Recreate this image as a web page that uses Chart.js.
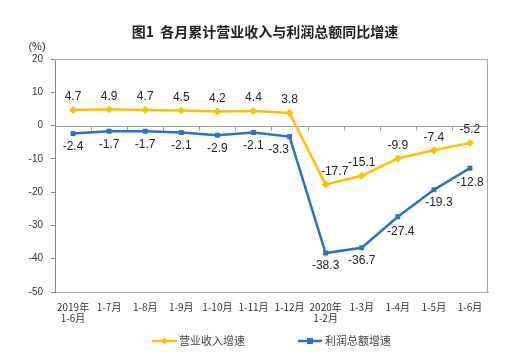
<!DOCTYPE html>
<html>
<head>
<meta charset="utf-8">
<script src="https://cdn.jsdelivr.net/npm/chart.js@4.4.1/dist/chart.umd.min.js"></script>
<style>
html,body{margin:0;padding:0;background:#fff;}
#wrap{width:516px;height:355px;position:relative;}
</style>
</head>
<body>
<div id="wrap"><canvas id="c" width="516" height="355"></canvas></div>
<script>
const categories = [['2019年','1-6月'],'1-7月','1-8月','1-9月','1-10月','1-11月','1-12月',['2020年','1-2月'],'1-3月','1-4月','1-5月','1-6月'];
const revenueGrowth = [4.7,4.9,4.7,4.5,4.2,4.4,3.8,-17.7,-15.1,-9.9,-7.4,-5.2];
const profitGrowth = [-2.4,-1.7,-1.7,-2.1,-2.9,-2.1,-3.3,-38.3,-36.7,-27.4,-19.3,-12.8];
const seriesNames = ['营业收入增速','利润总额增速'];
const yTicks = [20,10,0,-10,-20,-30,-40,-50];
const titleText = '图1  各月累计营业收入与利润总额同比增速';
const unitText = '(%)';

const ORANGE = '#FFC000';
const BLUE = '#2B72C4';
const CJK = '"Noto Sans CJK SC", sans-serif';
const LAT = '"Liberation Sans", Arial, sans-serif';

// label placement style (offsets in px)
const labelStyle = {
  0: {dy: -13, dx: {7: 9}},
  1: {dy: 13, dx: {6: -11, 9: 3, 10: 5}, dyx: {9: 15, 11: 15}}
};

const decor = {
  id: 'decor',
  beforeDatasetsDraw(chart) {
    const {ctx, chartArea: a, scales} = chart;
    ctx.save();
    ctx.strokeStyle = '#a6a6a6';
    ctx.lineWidth = 1;
    ctx.beginPath();
    ctx.moveTo(a.left, a.top + 0.5);
    ctx.lineTo(a.right - 0.5, a.top + 0.5);
    ctx.lineTo(a.right - 0.5, a.bottom);
    ctx.stroke();
    const y0 = Math.round(scales.y.getPixelForValue(0)) + 0.5;
    ctx.strokeStyle = '#999';
    ctx.beginPath();
    ctx.moveTo(a.left, y0);
    ctx.lineTo(a.right, y0);
    const xs = scales.x;
    const n = categories.length;
    const half = (xs.getPixelForValue(1) - xs.getPixelForValue(0)) / 2;
    for (let i = 1; i < n; i++) {
      const x = Math.round(xs.getPixelForValue(i) - half) + 0.5;
      ctx.moveTo(x, y0);
      ctx.lineTo(x, y0 + 4);
    }
    ctx.stroke();
    ctx.restore();
  },
  afterDatasetsDraw(chart) {
    const {ctx} = chart;
    ctx.save();
    ctx.font = '12px ' + LAT;
    ctx.fillStyle = '#222';
    ctx.textAlign = 'center';
    ctx.textBaseline = 'middle';
    chart.data.datasets.forEach((ds, di) => {
      const meta = chart.getDatasetMeta(di);
      const st = labelStyle[di];
      meta.data.forEach((pt, i) => {
        const dx = (st.dx && st.dx[i]) || 0;
        const dy = (st.dyx && st.dyx[i]) || st.dy;
        ctx.fillText(String(ds.data[i]), pt.x + dx, pt.y + dy);
      });
    });
    ctx.restore();
  },
  afterDraw(chart) {
    const {ctx} = chart;
    ctx.save();
    ctx.font = 'bold 14px ' + CJK;
    ctx.fillStyle = '#222';
    ctx.textAlign = 'center';
    ctx.textBaseline = 'middle';
    ctx.fillText(titleText, 265, 32);
    ctx.font = '11px ' + LAT;
    ctx.fillStyle = '#333';
    ctx.fillText(unitText, 37, 47);
    const items = [
      {x0: 152, x1: 177, tx: 179, color: ORANGE, style: 'rectRot'},
      {x0: 298, x1: 322, tx: 325, color: BLUE, style: 'rect'}
    ];
    const ly = 341;
    items.forEach((it, k) => {
      ctx.strokeStyle = it.color;
      ctx.lineWidth = 2.5;
      ctx.beginPath();
      ctx.moveTo(it.x0, ly);
      ctx.lineTo(it.x1, ly);
      ctx.stroke();
      ctx.fillStyle = it.color;
      const cx = (it.x0 + it.x1) / 2;
      if (it.style === 'rect') ctx.fillRect(cx - 3, ly - 3, 6, 6);
      else {
        ctx.beginPath();
        ctx.moveTo(cx, ly - 3.5); ctx.lineTo(cx + 3.5, ly); ctx.lineTo(cx, ly + 3.5); ctx.lineTo(cx - 3.5, ly);
        ctx.closePath(); ctx.fill();
      }
      ctx.font = '11px ' + CJK;
      ctx.fillStyle = '#444';
      ctx.textAlign = 'left';
      ctx.fillText(seriesNames[k], it.tx, ly);
    });
    ctx.restore();
  }
};

new Chart(document.getElementById('c'), {
  type: 'line',
  data: {
    labels: categories,
    datasets: [
      {
        label: seriesNames[0], data: revenueGrowth,
        borderColor: ORANGE, backgroundColor: ORANGE, borderWidth: 2.5,
        pointStyle: 'rectRot', pointRadius: 4, pointBorderWidth: 0, tension: 0
      },
      {
        label: seriesNames[1], data: profitGrowth,
        borderColor: BLUE, backgroundColor: BLUE, borderWidth: 2.5,
        pointStyle: 'rect', pointRadius: 3.5, pointBorderWidth: 0, tension: 0
      }
    ]
  },
  options: {
    responsive: false,
    animation: false,
    events: [],
    layout: {padding: {left: 0, right: 28, top: 59, bottom: 0}},
    plugins: {legend: {display: false}, title: {display: false}, tooltip: {enabled: false}},
    scales: {
      x: {
        offset: true,
        grid: {display: false, offset: true},
        border: {display: true, color: '#a6a6a6', width: 1},
        ticks: {
          font: {family: CJK, size: 10, lineHeight: 1.1}, color: '#333', padding: 2,
          maxRotation: 0, autoSkip: false
        },
        afterFit(s) { s.height = 63; }
      },
      y: {
        min: -50, max: 20,
        afterBuildTicks(s) { s.ticks = yTicks.map(v => ({value: v})); },
        grid: {display: true, drawOnChartArea: false, drawTicks: true, tickLength: 4, color: '#888'},
        border: {display: true, color: '#888', width: 1},
        ticks: {font: {family: LAT, size: 10}, color: '#333', padding: 8},
        afterFit(s) { s.width = 55; }
      }
    }
  },
  plugins: [decor]
});
</script>
</body>
</html>
